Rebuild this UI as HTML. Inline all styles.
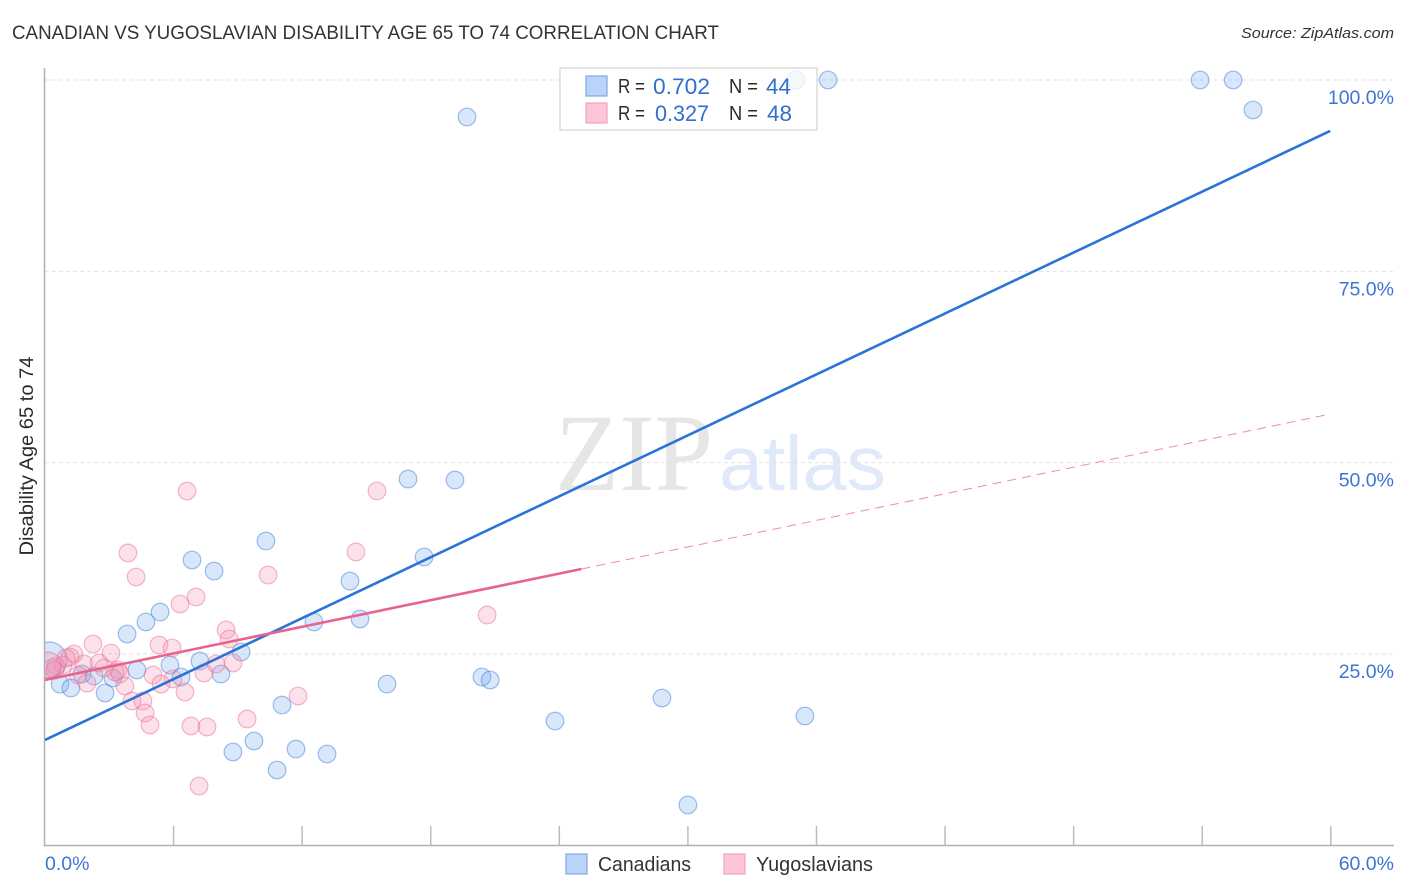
<!DOCTYPE html>
<html>
<head>
<meta charset="utf-8">
<title>Canadian vs Yugoslavian Disability Age 65 to 74 Correlation Chart</title>
<style>
html,body{margin:0;padding:0;background:#fff;width:1406px;height:892px;overflow:hidden}
svg{display:block;font-family:"Liberation Sans",sans-serif}
</style>
</head>
<body>
<svg id="chart" width="1406" height="892" viewBox="0 0 1406 892" xmlns="http://www.w3.org/2000/svg">
  <defs><clipPath id="plot-clip"><rect x="45" y="60" width="1350" height="785"/></clipPath></defs>
  <text x="12" y="39" font-size="19" fill="#333" textLength="707" lengthAdjust="spacingAndGlyphs">CANADIAN VS YUGOSLAVIAN DISABILITY AGE 65 TO 74 CORRELATION CHART</text>
  <text x="1394" y="38" font-size="15" font-style="italic" fill="#333" text-anchor="end" textLength="153" lengthAdjust="spacingAndGlyphs">Source: ZipAtlas.com</text>

  <text x="555" y="490" font-family="'Liberation Serif',serif" font-size="110" fill="#e6e6e6" textLength="158" lengthAdjust="spacingAndGlyphs">ZIP</text>
  <text x="719" y="490" font-size="77" fill="#dfe9f9" textLength="167" lengthAdjust="spacingAndGlyphs">atlas</text>

  <g id="grid"></g>
  <g id="axes"></g>
  <g id="canadians" clip-path="url(#plot-clip)"></g>
  <g id="yugoslavians" clip-path="url(#plot-clip)"></g>
  <g id="trends" clip-path="url(#plot-clip)"></g>
  <g id="labels"></g>

  <text transform="translate(33,456) rotate(-90)" font-size="19" fill="#2b2b2b" text-anchor="middle" textLength="199" lengthAdjust="spacingAndGlyphs">Disability Age 65 to 74</text>

  <g>
    <rect x="560" y="68" width="257" height="62" fill="#fff" fill-opacity="0.75" stroke="#dcdcdc" stroke-width="1.5"/>
    <rect x="586" y="76" width="21" height="20" fill="#b9d4f8" stroke="#7ba9e6" stroke-width="1.2"/>
    <rect x="586" y="103" width="21" height="20" fill="#fcc5d8" stroke="#f0a3bd" stroke-width="1.2"/>
    <text x="618" y="93" font-size="20" fill="#2b2b2b" textLength="27" lengthAdjust="spacingAndGlyphs">R =</text>
    <text x="653" y="94" font-size="22" fill="#2f6fd0" textLength="57" lengthAdjust="spacingAndGlyphs">0.702</text>
    <text x="729" y="93" font-size="20" fill="#2b2b2b" textLength="29" lengthAdjust="spacingAndGlyphs">N =</text>
    <text x="766" y="94" font-size="22" fill="#2f6fd0" textLength="25" lengthAdjust="spacingAndGlyphs">44</text>
    <text x="618" y="120" font-size="20" fill="#2b2b2b" textLength="27" lengthAdjust="spacingAndGlyphs">R =</text>
    <text x="655" y="121" font-size="22" fill="#2f6fd0" textLength="54" lengthAdjust="spacingAndGlyphs">0.327</text>
    <text x="729" y="120" font-size="20" fill="#2b2b2b" textLength="29" lengthAdjust="spacingAndGlyphs">N =</text>
    <text x="767" y="121" font-size="22" fill="#2f6fd0" textLength="25" lengthAdjust="spacingAndGlyphs">48</text>
  </g>

  <g>
    <rect x="566" y="854" width="21" height="20" fill="#b9d4f8" stroke="#7ba9e6" stroke-width="1.2"/>
    <text x="598" y="871" font-size="20" fill="#333" textLength="93" lengthAdjust="spacingAndGlyphs">Canadians</text>
    <rect x="724" y="854" width="21" height="20" fill="#fcc5d8" stroke="#f0a3bd" stroke-width="1.2"/>
    <text x="756" y="871" font-size="20" fill="#333" textLength="117" lengthAdjust="spacingAndGlyphs">Yugoslavians</text>
  </g>
</svg>
<script>
const canadiansX = [53.9,55.44,56.37,36.54,35.04,19.69,16.94,19.13,10.31,6.86,7.89,17.69,14.23,5.37,4.71,3.83,14.7,12.55,9.15,7.23,5.83,4.29,8.21,6.35,3.17,2.29,1.73,0.7,1.21,2.8,15.96,20.39,20.77,28.79,11.06,23.8,35.46,9.75,8.77,11.71,13.16,10.83,30.0,0.19];
const canadiansY = [100,100,96.08,100,100,95.17,47.86,47.73,39.76,37.28,35.84,37.67,34.53,30.48,29.18,27.61,29.57,29.18,25.26,24.08,23.56,22.91,22.38,21.99,21.86,22.12,22.38,21.07,20.55,19.9,21.07,21.99,21.6,19.25,18.33,16.24,16.9,13.63,12.19,12.58,11.93,9.84,5.27,24.21];
const yugoslaviansX = [6.63,15.49,3.87,14.51,4.25,10.41,7.05,6.3,20.63,8.45,8.59,2.24,5.32,5.93,1.35,3.08,1.17,1.82,0.84,2.52,0.51,0.33,3.41,7.98,8.77,2.75,5.04,3.5,5.97,1.54,7.42,1.96,3.73,5.41,6.53,11.81,4.06,4.57,4.67,4.9,6.81,7.56,9.43,7.19,0.47,0.98,3.27,0.14];
const yugoslaviansY = [46.3,46.3,38.2,38.33,35.06,35.32,32.44,31.53,30.09,28.13,26.96,26.3,26.17,25.78,25.0,25.13,24.6,23.69,23.56,23.82,23.43,23.17,22.91,23.69,23.82,23.17,22.25,22.38,21.73,22.25,22.51,21.2,20.82,21.07,20.03,19.51,18.86,18.86,17.29,15.72,15.59,15.46,16.5,7.75,22.91,24.47,22.65,23.56];
const canadiansTrendX = [0,59.97];
const canadiansTrendY = [13.76,93.34];
const yugoslaviansTrendX = [0,25.03];
const yugoslaviansTrendY = [21.6,36.1];
const yugoslaviansDashX = [25.03,59.77];
const yugoslaviansDashY = [36.1,56.23];
const yTicks = [100,75,50,25];
const yTickLabels = ["100.0%","75.0%","50.0%","25.0%"];
const xTicks = [0,6,12,18,24,30,36,42,48,54,60];
const xEndLabels = ["0.0%","60.0%"];

const xScale = v => 45 + v * 21.43;
const yScale = v => 80 + (100 - v) * 7.653;
const NS = "http://www.w3.org/2000/svg";
function make(tag, attrs, parent) {
  const el = document.createElementNS(NS, tag);
  for (const k in attrs) el.setAttribute(k, attrs[k]);
  parent.appendChild(el);
  return el;
}
const grid = document.getElementById("grid");
const axes = document.getElementById("axes");
const labels = document.getElementById("labels");
const trends = document.getElementById("trends");

yTicks.forEach((t, i) => {
  const line = make("line", {x1: 45, x2: 1394, y1: yScale(t), y2: yScale(t), stroke: "#e2e2e2", "stroke-width": 1, "stroke-dasharray": "4 3"}, grid);
  
  
  const label = make("text", {x: 1394, y: yScale(t) + 24, "font-size": 19.5, fill: "#3f74d2", "text-anchor": "end"}, labels);
  
  
  label.textContent = yTickLabels[i];
});

const yAxis = make("line", {x1: 44.5, x2: 44.5, y1: 68, y2: 846, stroke: "#b0b0b0", "stroke-width": 1.5}, axes);


const xAxis = make("line", {x1: 44, x2: 1394, y1: 845.5, y2: 845.5, stroke: "#b0b0b0", "stroke-width": 1.5}, axes);


xTicks.slice(1).forEach(t => {
  const tick = make("line", {x1: xScale(t), x2: xScale(t), y1: 826, y2: 845, stroke: "#bcbcbc", "stroke-width": 1.5}, axes);
  
  
});

const xLabelLeft = make("text", {x: 45, y: 870, "font-size": 19.5, fill: "#3f74d2"}, labels);


xLabelLeft.textContent = xEndLabels[0];
const xLabelRight = make("text", {x: 1394, y: 870, "font-size": 19.5, fill: "#3f74d2", "text-anchor": "end"}, labels);


xLabelRight.textContent = xEndLabels[1];

function drawPoints(groupId, xs, ys, fill, stroke, bigRadius, pointName) {
  const g = document.getElementById(groupId);
  xs.forEach((x, i) => {
    const isBig = i === xs.length - 1;
    const c = make("circle", {cx: xScale(x), cy: yScale(ys[i]), r: isBig ? bigRadius : 8.8, fill: fill, "fill-opacity": 0.27, stroke: stroke, "stroke-opacity": 0.5, "stroke-width": 1.2}, g);
    
    
  });
}
drawPoints("canadians", canadiansX, canadiansY, "#70a5ee", "#3f80dc", 18, "canadians-point");
drawPoints("yugoslavians", yugoslaviansX, yugoslaviansY, "#f590b2", "#e86f98", 13, "yugoslavians-point");

const blueTrend = make("line", {x1: xScale(canadiansTrendX[0]), y1: yScale(canadiansTrendY[0]), x2: xScale(canadiansTrendX[1]), y2: yScale(canadiansTrendY[1]), stroke: "#2a74d8", "stroke-width": 2.6}, trends);


const pinkTrend = make("line", {x1: xScale(yugoslaviansTrendX[0]), y1: yScale(yugoslaviansTrendY[0]), x2: xScale(yugoslaviansTrendX[1]), y2: yScale(yugoslaviansTrendY[1]), stroke: "#e8648f", "stroke-width": 2.6}, trends);


const pinkDash = make("line", {x1: xScale(yugoslaviansDashX[0]), y1: yScale(yugoslaviansDashY[0]), x2: xScale(yugoslaviansDashX[1]), y2: yScale(yugoslaviansDashY[1]), stroke: "#e8648f", "stroke-width": 1, "stroke-dasharray": "9 6", "stroke-opacity": 0.75}, trends);


</script>
</body>
</html>
